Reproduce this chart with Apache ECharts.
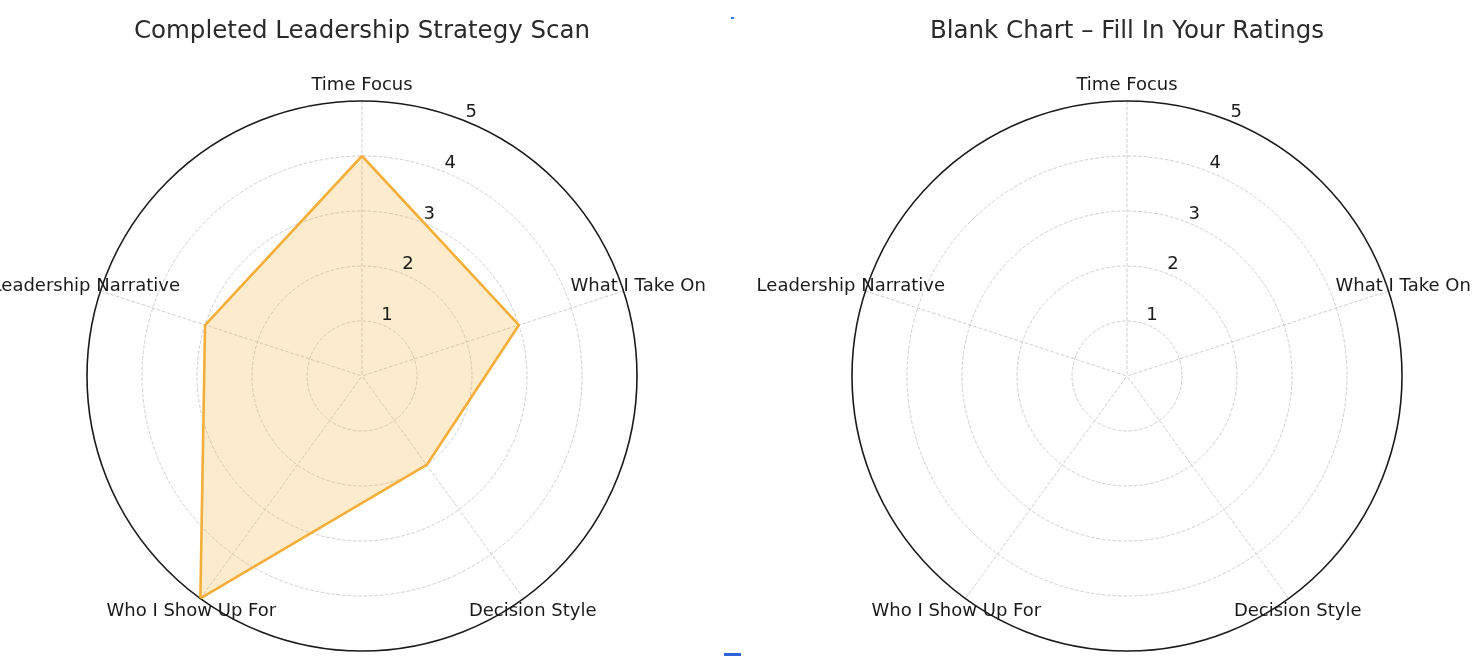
<!DOCTYPE html>
<html>
<head>
<meta charset="utf-8">
<script src="https://cdn.jsdelivr.net/npm/echarts@6/dist/echarts.min.js"></script>
<style>
html,body{margin:0;padding:0;background:#fff;}
#chart{width:1474px;height:656px;}
</style>
</head>
<body>
<div id="chart"></div>
<script>
const categories = ['Time Focus', 'What I Take On', 'Decision Style', 'Who I Show Up For', 'Leadership Narrative'];
const completedScores = [4, 3, 2, 5, 3];
const blankScores = [];
const radialTicks = [1, 2, 3, 4, 5];
const titles = ['Completed Leadership Strategy Scan', 'Blank Chart \u2013 Fill In Your Ratings'];

const FONT = 'DejaVu Sans';
const STEP = 360 / categories.length;
const LABEL_R = 5.28;
const TICK_OFFSET = 0.19;
const TICK_ANGLE = 22.5;
const centers = [[362, 376], [1127, 376]];

function polygonData(scores) {
  if (!scores.length) return [];
  const pts = scores.map((v, i) => [v, i * STEP]);
  pts.push([scores[0], 360]);
  return pts;
}

const option = {
  backgroundColor: '#fff',
  animation: false,
  title: titles.map((t, k) => ({
    text: t,
    left: centers[k][0] - 5,
    textAlign: 'center',
    top: 14,
    textStyle: {fontFamily: FONT, fontSize: 24.5, fontWeight: 'normal', color: '#2a2a2a'}
  })),
  polar: centers.map(c => ({center: c, radius: 275})),
  angleAxis: centers.map((c, k) => ({
    polarIndex: k, type: 'value', min: 0, max: 360, interval: STEP,
    startAngle: 90, clockwise: true,
    axisLine: {show: true, lineStyle: {color: '#1a1a1a', width: 1.6}},
    axisTick: {show: false}, axisLabel: {show: false},
    splitLine: {show: true, lineStyle: {color: '#c8c8c8', type: 'dashed', width: 0.9}}
  })),
  radiusAxis: centers.map((c, k) => ({
    polarIndex: k, type: 'value', min: 0, max: 5, interval: 1,
    axisLine: {show: false}, axisTick: {show: false}, axisLabel: {show: false},
    splitLine: {show: true, lineStyle: {color: ['#c8c8c8','#c8c8c8','#c8c8c8','#c8c8c8','#c8c8c8','rgba(0,0,0,0)'], type: 'dashed', width: 0.9}}
  })),
  series: [],
  graphic: [
    {type: 'rect', shape: {x: 731, y: 17, width: 3, height: 2}, style: {fill: '#3d72e6'}, silent: true},
    {type: 'rect', shape: {x: 724, y: 653, width: 17, height: 3}, style: {fill: '#2f63d8'}, silent: true}
  ]
};

[completedScores, blankScores].forEach((scores, k) => {
  const d = polygonData(scores);
  if (d.length) {
    option.series.push({
      type: 'line', coordinateSystem: 'polar', polarIndex: k,
      data: d, symbol: 'none', clip: false, silent: true,
      lineStyle: {color: '#F4AF3A', width: 2.6},
      areaStyle: {color: 'rgba(247,176,55,0.36)'},
      z: 3
    });
  }
  option.series.push({
    type: 'scatter', coordinateSystem: 'polar', polarIndex: k,
    symbolSize: 0, clip: false, silent: true,
    itemStyle: {opacity: 1},
    data: categories.map((name, i) => ({name: name, value: [LABEL_R, i * STEP]})),
    label: {show: true, position: 'inside', formatter: '{b}', align: 'center', verticalAlign: 'middle',
      fontFamily: FONT, fontSize: 18, color: '#1a1a1a'},
    z: 4
  });
  option.series.push({
    type: 'scatter', coordinateSystem: 'polar', polarIndex: k,
    symbolSize: 0, clip: false, silent: true,
    itemStyle: {opacity: 1},
    data: radialTicks.map(t => ({name: String(t), value: [t + TICK_OFFSET, TICK_ANGLE]})),
    label: {show: true, position: 'inside', formatter: '{b}', align: 'center', verticalAlign: 'middle',
      fontFamily: FONT, fontSize: 18, color: '#1a1a1a'},
    z: 4
  });
});

const chart = echarts.init(document.getElementById('chart'), null, {renderer: 'canvas'});
chart.setOption(option);
</script>
</body>
</html>
